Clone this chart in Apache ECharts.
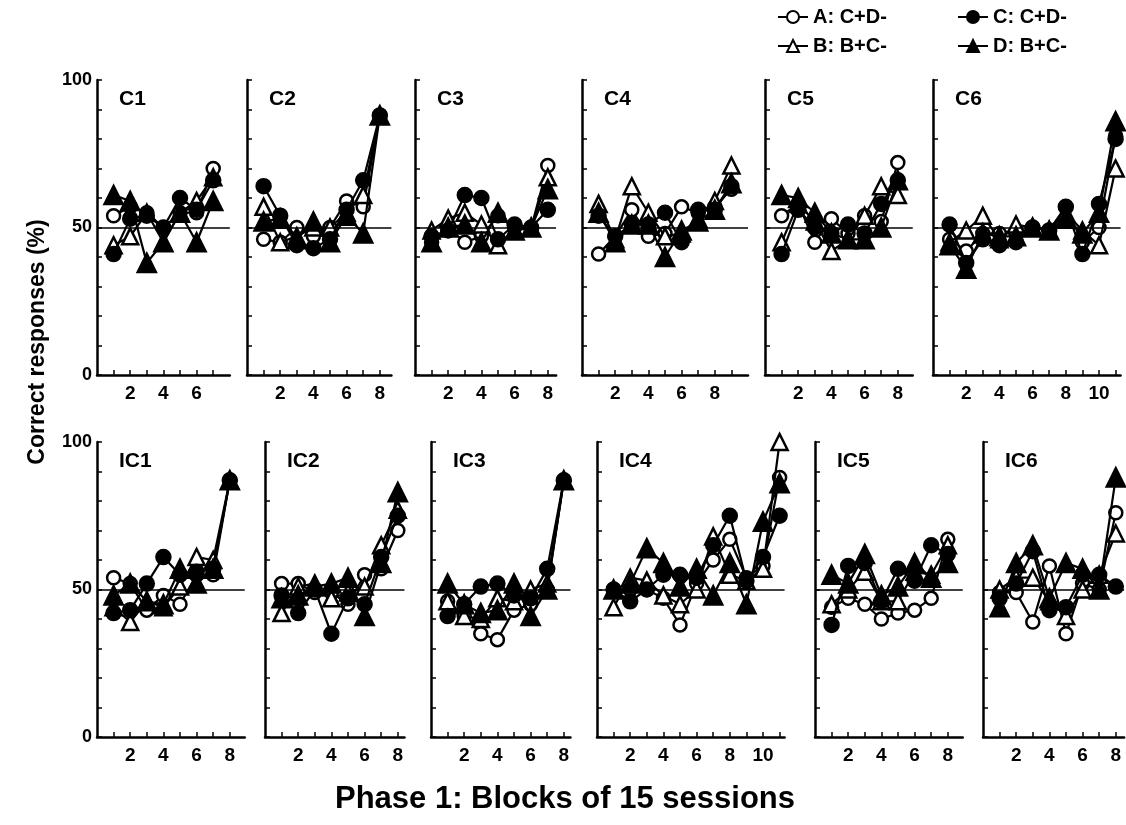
<!DOCTYPE html>
<html lang="en">
<head>
  <meta charset="UTF-8">
  <title>Correct responses by block</title>
  <script src="https://cdn.jsdelivr.net/npm/echarts@6/dist/echarts.min.js"></script>
  <style>
    html, body { margin: 0; padding: 0; background: #fff; }
  </style>
</head>
<body>
  <div id="main" style="width: 1126px;height: 825px;"></div>
  <script type="text/javascript">
    // panel names, one per subject
    var panelNames = ['C1', 'C2', 'C3', 'C4', 'C5', 'C6', 'IC1', 'IC2', 'IC3', 'IC4', 'IC5', 'IC6']
    var legendNames = ['A: C+D-', 'B: B+C-', 'C: C+D-', 'D: B+C-']

    // % correct per block, one row per panel
    var seriesA = [
      [54, 57, 55, 50, 55, 55, 70],
      [46, 45, 50, 47, 50, 59, 57, 88],
      [45, 50, 45, 47, 54, 50, 50, 71],
      [41, 47, 56, 47, 48, 57, 55, 57, 63],
      [54, 58, 45, 53, 48, 54, 52, 72],
      [46, 42, 48, 48, 48, 50, 49, 57, 45, 50, 81],
      [54, 52, 43, 48, 45, 55, 55, 87],
      [52, 52, 49, 49, 45, 55, 57, 70],
      [46, 41, 35, 33, 43, 45, 50, 87],
      [50, 50, 50, 47, 38, 52, 60, 67, 54, 58, 88],
      [44, 47, 45, 40, 42, 43, 47, 67],
      [49, 49, 39, 58, 35, 52, 50, 76]
    ]
    var seriesB = [
      [44, 47, 55, 45, 55, 59, 67],
      [57, 45, 47, 50, 50, 55, 61, 88],
      [49, 53, 55, 51, 44, 49, 50, 67],
      [58, 46, 64, 55, 47, 48, 53, 59, 71],
      [45, 58, 52, 42, 46, 54, 64, 61],
      [45, 49, 54, 46, 51, 50, 49, 55, 49, 44, 70],
      [44, 39, 46, 44, 51, 61, 60, 87],
      [42, 51, 52, 47, 49, 51, 65, 77],
      [46, 41, 40, 47, 46, 50, 52, 87],
      [44, 54, 53, 48, 45, 50, 68, 55, 53, 57, 100],
      [45, 50, 56, 46, 46, 56, 55, 65],
      [50, 54, 54, 46, 41, 50, 55, 69]
    ]
    var seriesC = [
      [41, 53, 54, 50, 60, 56, 66],
      [64, 54, 44, 43, 46, 56, 66, 88],
      [47, 49, 61, 60, 46, 51, 50, 56],
      [54, 47, 51, 51, 55, 45, 56, 56, 64],
      [41, 56, 50, 48, 51, 48, 58, 66],
      [51, 38, 46, 44, 45, 50, 49, 57, 41, 58, 80],
      [42, 43, 52, 61, 55, 56, 57, 87],
      [48, 42, 50, 35, 47, 45, 61, 75],
      [41, 45, 51, 52, 48, 47, 57, 87],
      [50, 46, 50, 55, 55, 54, 65, 75, 53, 61, 75],
      [38, 58, 59, 46, 57, 53, 65, 62],
      [47, 52, 63, 43, 44, 55, 55, 51]
    ]
    var seriesD = [
      [61, 59, 38, 45, 55, 45, 59],
      [52, 53, 46, 52, 45, 54, 48, 88],
      [45, 50, 51, 45, 55, 49, 50, 63],
      [55, 45, 51, 51, 40, 49, 52, 56, 65],
      [61, 60, 55, 48, 46, 46, 50, 66],
      [44, 36, 48, 47, 47, 50, 49, 53, 48, 55, 86],
      [48, 52, 46, 45, 57, 52, 57, 87],
      [47, 48, 51, 52, 54, 41, 59, 83],
      [52, 45, 42, 43, 52, 41, 50, 87],
      [50, 52, 64, 59, 51, 57, 48, 59, 45, 73, 86],
      [55, 52, 62, 48, 51, 59, 54, 59],
      [44, 59, 65, 47, 59, 57, 50, 88]
    ]
    var yTicks = [0, 10, 20, 30, 40, 50, 60, 70, 80, 90, 100]
    var yLabels = [0, 50, 100]

    // layout
    var FONT = 'Liberation Sans'
    var unit = 16.6
    var rowTop = [80, 442]
    var rowHeight = 295
    var gridLeft = [97, 247, 415, 582, 765, 933, 97, 265, 431, 597, 815, 983]
    var axisMax = [8, 8.7, 8.5, 10, 8.9, 11.3, 8.9, 8.4, 8.4, 11.3, 8.9, 8.5]

    var styles = [
      { symbol: 'circle', size: 13, fill: '#fff' },
      { symbol: 'triangle', size: 16, fill: '#fff' },
      { symbol: 'circle', size: 14, fill: '#000' },
      { symbol: 'triangle', size: 18, fill: '#000' }
    ]
    var allSeries = [seriesA, seriesB, seriesC, seriesD]

    var grids = [], xAxes = [], yAxes = [], titles = [], series = []

    panelNames.forEach(function (name, p) {
      var row = p < 6 ? 0 : 1
      var n = seriesA[p].length
      grids.push({
        left: gridLeft[p], top: rowTop[row],
        width: axisMax[p] * unit, height: rowHeight
      })
      var xt = [], xl = []
      for (var k = 1; k <= n; k++) {
        xt.push(k)
        if (k % 2 === 0) xl.push(k)
      }
      xAxes.push({
        gridIndex: p, type: 'value', min: 0, max: axisMax[p],
        splitLine: { show: false },
        axisLine: { lineStyle: { color: '#000', width: 2.5 } },
        axisTick: { inside: true, length: 5, customValues: xt, lineStyle: { color: '#000', width: 1.5 } },
        axisLabel: {
          customValues: xl, margin: 9, color: '#000',
          fontFamily: FONT, fontWeight: 'bold', fontSize: 19
        }
      })
      var first = (p % 6 === 0)
      yAxes.push({
        gridIndex: p, type: 'value', min: 0, max: 100,
        splitLine: { show: false },
        axisLine: { show: true, lineStyle: { color: '#000', width: 2.5 } },
        axisTick: { inside: true, length: 5, customValues: yTicks, lineStyle: { color: '#000', width: 1.5 } },
        axisLabel: {
          show: first, customValues: yLabels, margin: 5, color: '#000',
          fontFamily: FONT, fontWeight: 'bold', fontSize: 18
        }
      })
      titles.push({
        text: name, left: gridLeft[p] + 17, top: rowTop[row] + 4,
        textStyle: { fontFamily: FONT, fontWeight: 'bold', fontSize: 21, color: '#000' }
      })

      allSeries.forEach(function (arr, s) {
        var st = styles[s]
        var ser = {
          type: 'line',
          name: legendNames[s],
          xAxisIndex: p, yAxisIndex: p,
          data: arr[p].map(function (v, i) { return [i + 1, v] }),
          symbol: st.symbol,
          symbolSize: st.size,
          showAllSymbol: true,
          lineStyle: { color: '#000', width: 2.2 },
          itemStyle: { color: st.fill, borderColor: '#000', borderWidth: 2.5 },
          z: 2 + s
        }
        if (s === 0) {
          ser.markLine = {
            silent: true, symbol: 'none', label: { show: false },
            lineStyle: { color: '#000', width: 1.5, type: 'solid' },
            data: [{ yAxis: 50 }]
          }
        }
        series.push(ser)
      })
    })

    var legendText = { fontFamily: FONT, fontSize: 20, fontWeight: 'bold', color: '#000' }

    var myChart = echarts.init(document.getElementById('main'))
    myChart.setOption({
      animation: false,
      backgroundColor: '#fff',
      title: titles,
      grid: grids,
      xAxis: xAxes,
      yAxis: yAxes,
      legend: [
        { data: legendNames.slice(0, 2), orient: 'vertical', left: 772, top: 2,
          itemWidth: 30, itemHeight: 15, itemGap: 9, textStyle: legendText, selectedMode: false },
        { data: legendNames.slice(2, 4), orient: 'vertical', left: 952, top: 2,
          itemWidth: 30, itemHeight: 15, itemGap: 9, textStyle: legendText, selectedMode: false }
      ],
      graphic: [
        {
          type: 'text', x: 38, y: 342, rotation: Math.PI / 2,
          style: {
            text: 'Correct responses (%)', fill: '#000',
            font: 'bold 23px "Liberation Sans"',
            textAlign: 'center', textVerticalAlign: 'middle',
            align: 'center', verticalAlign: 'middle'
          }
        },
        {
          type: 'text', x: 565, y: 799,
          style: {
            text: 'Phase 1: Blocks of 15 sessions', fill: '#000',
            font: 'bold 31px "Liberation Sans"',
            textAlign: 'center', textVerticalAlign: 'middle',
            align: 'center', verticalAlign: 'middle'
          }
        }
      ],
      series: series
    })
  </script>
</body>
</html>
